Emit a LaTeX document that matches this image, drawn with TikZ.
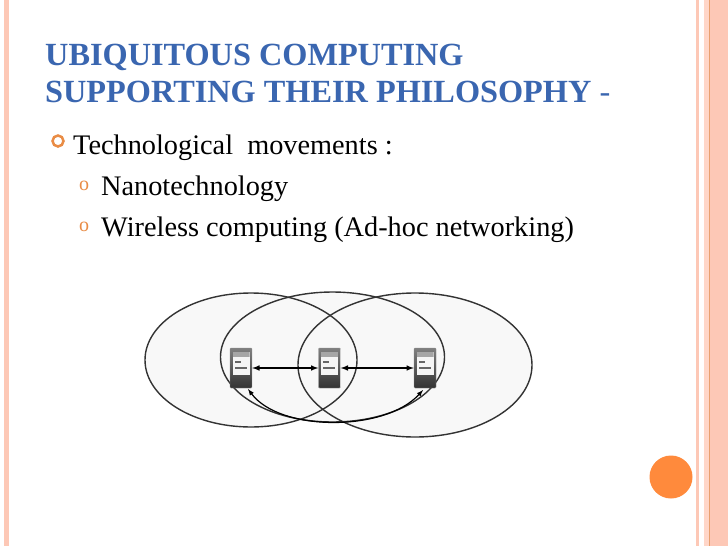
\documentclass[tikz,border=0pt]{standalone}
\usepackage{fontspec}
\setmainfont{Liberation Serif}
\usetikzlibrary{shapes.geometric}
\definecolor{titleblue}{HTML}{3A66B0}
\definecolor{bandpink}{HTML}{FDC8B6}
\definecolor{bandlight}{HTML}{FFD6C8}
\definecolor{bandline}{HTML}{E8A070}
\definecolor{dotorange}{HTML}{FF8A3C}
\definecolor{ringorange}{HTML}{E98C45}
\definecolor{cellgray}{HTML}{F8F8F8}
\tikzstyle{title} = [anchor=base west, inner sep=0pt, text=titleblue, font={\fontsize{32.3}{32}\selectfont\bfseries}]
\tikzstyle{item} = [anchor=base west, inner sep=0pt, font={\fontsize{28.3}{28}\selectfont}]
\tikzstyle{subdot} = [anchor=base west, inner sep=0pt, text=ringorange, font={\fontsize{20}{20}\selectfont}]
\tikzstyle{cell} = [draw=black!80, line width=1.4pt, ellipse, inner sep=0pt]
\tikzstyle{band} = [fill=bandpink, draw=none]
\tikzstyle{phone} = [top color=black!50, bottom color=black!80, draw=black!45, rounded corners=1pt, minimum width=22pt, minimum height=40pt, inner sep=0pt]
\tikzstyle{screen} = [fill=black!4, draw=none, minimum width=17pt, minimum height=23pt, inner sep=0pt,
  path picture={
    \fill[black!35] (path picture bounding box.north west) rectangle ([yshift=-5pt]path picture bounding box.north east);
    \fill[black!60] ([xshift=2pt,yshift=-9pt]path picture bounding box.north west) rectangle ([xshift=-9pt,yshift=-10.5pt]path picture bounding box.north east);
    \fill[black!60] ([xshift=2pt,yshift=8pt]path picture bounding box.south west) rectangle ([xshift=-3pt,yshift=6.5pt]path picture bounding box.south east);
  }]
\tikzstyle{link} = [line width=1.5pt, >=latex]

\begin{document}
\begin{tikzpicture}[x=1pt,y=-1pt]
    \useasboundingbox (0,0) rectangle (728,546);
    \fill[white] (0,0) rectangle (728,546);
    % side bands
    \fill[band] (4,0) rectangle (9,546);
    \fill[band] (696,0) rectangle (699,546);
    \fill[band] (709,0) rectangle (728,546);
    \fill[bandlight] (704,0) rectangle (709,546);
    \draw[bandline] (709.5,0) -- (709.5,546);
    % text
    \node[title](t1) at (45,65){UBIQUITOUS COMPUTING};
    \node[title](t2) at (45,102){SUPPORTING THEIR PHILOSOPHY \textmd{-}};
    \node[draw=ringorange, line width=2.5pt, circle, minimum size=11pt, inner sep=0pt](b1) at (58,141){};
    \node[item](i1) at (73,154){Technological\ \ movements :};
    \node[subdot](b2) at (79,190){o};
    \node[item](i2) at (101,195){Nanotechnology};
    \node[subdot](b3) at (79,231){o};
    \node[item](i3) at (101,236){Wireless computing (Ad-hoc networking)};
    \node[fill=dotorange, circle, minimum size=43pt, inner sep=0pt](dot) at (671,477){};
    % coverage areas
    \fill[cellgray] (251,360) ellipse [x radius=106, y radius=67];
    \fill[cellgray] (332.5,357) ellipse [x radius=112, y radius=65];
    \fill[cellgray] (415,365) ellipse [x radius=117, y radius=72];
    \node[cell, minimum width=212pt, minimum height=134pt](left) at (251,360){};
    \node[cell, minimum width=224pt, minimum height=130pt](mid) at (332.5,357){};
    \node[cell, minimum width=234pt, minimum height=144pt](right) at (415,365){};
    % devices
    \node[phone](p1) at (241,368){};
    \node[phone](p2) at (329.5,368){};
    \node[phone](p3) at (425,368){};
    \node[screen](s1) at (241,363.5){};
    \node[screen](s2) at (329.5,363.5){};
    \node[screen](s3) at (425,363.5){};
    % links
    \coordinate(c1) at (248,389);
    \coordinate(c3) at (423,390);
    \draw[link,<->](p1)--(p2);
    \draw[link,<->](p2)--(p3);
    \draw[line width=1.2pt,>=latex,<->](c1) .. controls (280,432) and (385,432) .. (c3);
  \end{tikzpicture}
\end{document}
